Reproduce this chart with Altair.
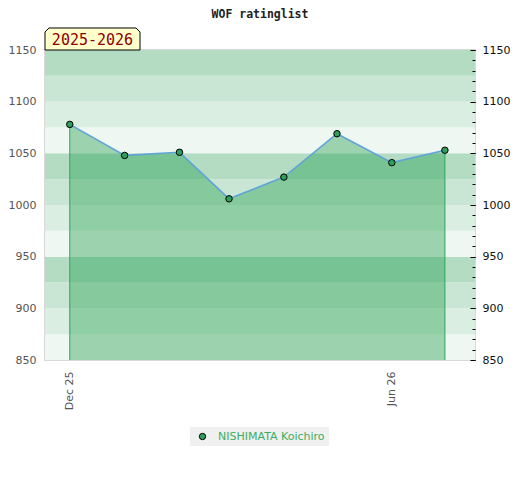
import altair as alt
import pandas as pd

dates = ["2025-12-01", "2026-01-01", "2026-02-01", "2026-03-01",
         "2026-04-01", "2026-05-01", "2026-06-01", "2026-07-01"]
ratings = [1078, 1048, 1051, 1006, 1027, 1069, 1041, 1053]
player = "NISHIMATA Koichiro"
season = "2025-2026"
title_text = "WOF ratinglist"

band_lo = list(range(850, 1150, 25))
band_shades = ["#eef7f1", "#dbeee2", "#c9e6d4", "#b3dcc3"]

df = pd.DataFrame({"date": dates, "rating": ratings, "player": [player] * len(dates)})
ends = df.iloc[[0, -1]]
bands = pd.DataFrame({"lo": band_lo, "hi": [b + 25 for b in band_lo],
                      "shade": [band_shades[i % 4] for i in range(len(band_lo))]})
label_df = pd.DataFrame({"t": [season]})
title_df = pd.DataFrame({"t": [title_text]})

W, H = 430, 310
ydom = [850, 1150]
xdom = [alt.DateTime(year=2025, month=11, date=17, utc=True),
        alt.DateTime(year=2026, month=7, date=18, utc=True)]
xticks = [alt.DateTime(year=2025, month=12, date=1, utc=True),
          alt.DateTime(year=2026, month=6, date=1, utc=True)]

yscale = alt.Scale(domain=ydom, zero=False, nice=False)
xscale = alt.Scale(type="utc", domain=xdom)

band_layer = alt.Chart(bands).mark_rect().encode(
    y=alt.Y("lo:Q", scale=yscale,
            axis=alt.Axis(orient="left", values=list(range(850, 1151, 50)), title=None,
                          format="d", ticks=False, domain=False, grid=False, labelPadding=9,
                          labelColor="#555555", labelFontSize=11, labelFont="DejaVu Sans")),
    y2="hi:Q",
    fill=alt.Fill("shade:N", scale=None),
)

area = alt.Chart(df).mark_area(color="#219d4a", opacity=0.4).encode(
    x=alt.X("date:T", scale=xscale,
            axis=alt.Axis(values=xticks, labelExpr="utcFormat(datum.value, '%b %y')",
                          labelAngle=270, title=None, ticks=False, domain=False, grid=False,
                          labelPadding=11, labelColor="#555555", labelFontSize=11,
                          labelFont="DejaVu Sans", labelAlign="right", labelBaseline="middle")),
    y=alt.Y("rating:Q", scale=yscale, axis=None),
    y2=alt.datum(850),
)

edges = alt.Chart(ends).mark_rule(color="#2ea55a", strokeWidth=1).encode(
    x="date:T", y=alt.Y("rating:Q", axis=None), y2=alt.datum(850)
)

line = alt.Chart(df).mark_line(color="#5fa3d8", strokeWidth=1.6).encode(
    x="date:T", y=alt.Y("rating:Q", axis=None)
)

pts = alt.Chart(df).mark_point(filled=True, size=42, stroke="black", strokeWidth=1,
                               opacity=1).encode(
    x="date:T",
    y=alt.Y("rating:Q", scale=yscale,
            axis=alt.Axis(orient="right", values=list(range(850, 1151, 50)), title=None,
                          format="d", offset=-5, tickSize=5, tickColor="black", domain=False,
                          grid=False, labelPadding=7, labelColor="#111111", labelFontSize=11,
                          labelFont="DejaVu Sans", zindex=2)),
    fill=alt.Fill("player:N", scale=alt.Scale(range=["#2e9e5b"]),
                  legend=alt.Legend(orient="none", legendX=145, legendY=377, title=None,
                                    fillColor="#f0f0f0", padding=4, symbolType="circle",
                                    symbolSize=40, symbolStrokeColor="black",
                                    symbolStrokeWidth=1, labelColor="#3cae63",
                                    labelFontSize=11, labelFont="DejaVu Sans",
                                    symbolOffset=3, labelOffset=10)),
)

minor = alt.Chart(df).mark_point(opacity=0).encode(
    y=alt.Y("rating:Q", scale=yscale,
            axis=alt.Axis(orient="right", values=list(range(850, 1151, 10)), title=None,
                          offset=-3, tickSize=3, tickColor="black", domain=False, grid=False,
                          labels=False, zindex=2)),
)

box_path = "M -1 0.2316 L -1 -0.148 L -0.916 -0.2316 L 0.916 -0.2316 L 1 -0.148 L 1 0.2316 Z"
box = alt.Chart(label_df).mark_point(shape=box_path, size=9025, filled=True, fill="#ffffcc",
                                     stroke="black", strokeWidth=1, opacity=1).encode(
    x=alt.value(47.5), y=alt.value(-11)
)
box_text = alt.Chart(label_df).mark_text(font="DejaVu Sans Mono", fontSize=15, color="#8b0000",
                                         align="center", baseline="alphabetic").encode(
    x=alt.value(47.5), y=alt.value(-5.5), text="t:N"
)
title_mark = alt.Chart(title_df).mark_text(font="DejaVu Sans Mono", fontSize=11.5,
                                           fontWeight="bold", color="#222222",
                                           align="center", baseline="alphabetic").encode(
    x=alt.value(W / 2), y=alt.value(-32), text="t:N"
)

chart = alt.layer(band_layer, area, edges, line, pts, minor, box, box_text,
                  title_mark).resolve_axis(
    y="independent"
).properties(
    width=W, height=H,
    autosize=alt.AutoSizeParams(type="none"),
    padding={"left": 37, "top": 42, "right": 37, "bottom": 110},
).configure_view(stroke="#d9d9d9", strokeWidth=2)

chart.save("out.html", embed_options={"renderer": "svg", "actions": False})
